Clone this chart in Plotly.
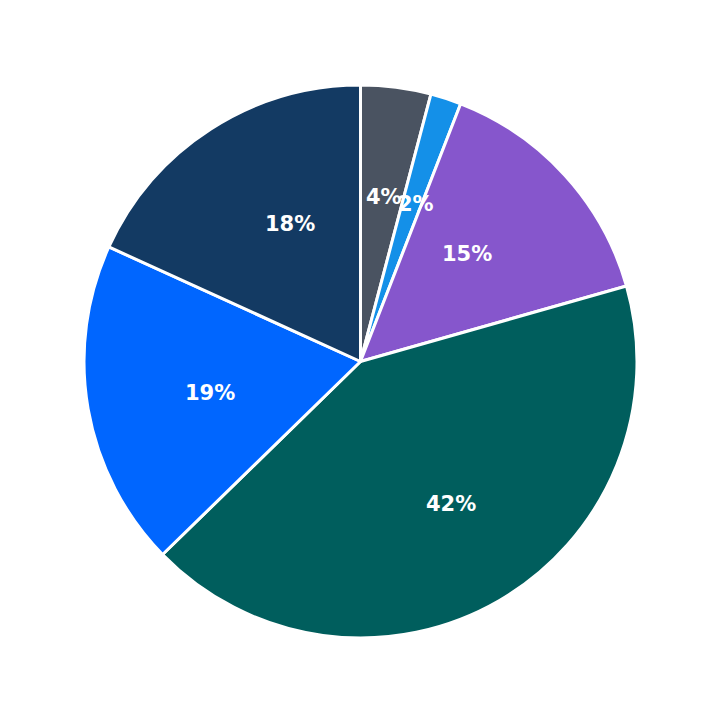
import math
import plotly.graph_objects as go

labels = ["A", "B", "C", "D", "E", "F"]
values = [4.1, 1.8, 14.7, 42.1, 19.1, 18.2]
colors = ["#4a5361", "#1490e8", "#8656cc", "#005e5d", "#0066ff", "#133a63"]

fig = go.Figure(go.Pie(
    labels=labels, values=values, sort=False, direction="clockwise", rotation=0,
    marker=dict(colors=colors, line=dict(color="white", width=3)),
    textinfo="none", hoverinfo="label+percent",
))

total = sum(values)
cum = 0
r = 180 / 552
for v in values:
    mid = (cum + v / 2) / total * 2 * math.pi
    cum += v
    fig.add_annotation(x=0.5 + r * math.sin(mid), y=0.5 + r * math.cos(mid),
                       xref="paper", yref="paper", showarrow=False,
                       text=f"{round(v / total * 100)}%",
                       font=dict(family="DejaVu Sans", size=21, color="white", weight="bold"))

fig.update_layout(width=723, height=723, showlegend=False,
                  margin=dict(l=76, r=94, t=77, b=93),
                  paper_bgcolor="white")
fig.write_html("out.html")
